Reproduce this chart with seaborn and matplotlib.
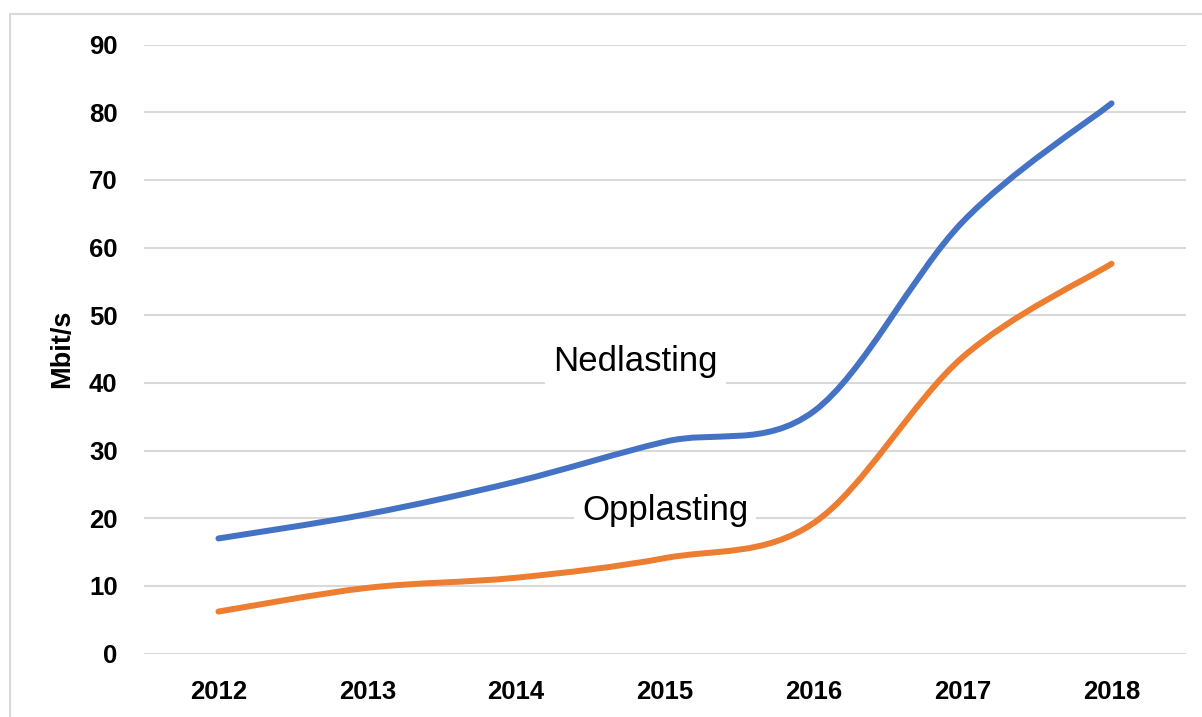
import matplotlib
matplotlib.use("Agg")
import matplotlib.pyplot as plt
import numpy as np
import seaborn as sns
from matplotlib.patches import PathPatch, Rectangle
from matplotlib.path import Path

# Data
aar = ["2012", "2013", "2014", "2015", "2016", "2017", "2018"]
nedlasting = [17.0, 20.6, 25.4, 31.3, 35.8, 63.8, 81.3]
opplasting = [6.2, 9.7, 11.2, 14.1, 19.3, 43.8, 57.6]
y_ticks = [0, 10, 20, 30, 40, 50, 60, 70, 80, 90]

BLAA = "#4472C4"
ORANSJE = "#ED7D31"
GRID = "#D9D9D9"


def glatt_sti(xs, ys):
    """Bezier-sti (Catmull-Rom) gjennom punktene, som Excel sine glatte linjer."""
    p = np.column_stack([xs, ys]).astype(float)
    n = len(p)
    verts = [p[0]]
    codes = [Path.MOVETO]
    for i in range(n - 1):
        p0 = p[max(i - 1, 0)]
        p1 = p[i]
        p2 = p[i + 1]
        p3 = p[min(i + 2, n - 1)]
        c1 = p1 + (p2 - p0) / 6.0
        c2 = p2 - (p3 - p1) / 6.0
        verts += [c1, c2, p2]
        codes += [Path.CURVE4] * 3
    return Path(verts, codes)


sns.set_theme(style="white")
plt.rcParams["font.family"] = ["Liberation Sans", "DejaVu Sans"]
plt.rcParams["text.color"] = "black"

fig = plt.figure(figsize=(12.02, 7.17), dpi=100)
ax = fig.add_axes([144 / 1202, 1 - 653.5 / 717, (1186 - 144) / 1202, (653.5 - 44.5) / 717])

x = np.arange(len(aar))
for verdier, farge in [(nedlasting, BLAA), (opplasting, ORANSJE)]:
    ax.add_patch(PathPatch(glatt_sti(x, verdier), facecolor="none", edgecolor=farge,
                           lw=4.3, capstyle="round", joinstyle="round", zorder=3))

ax.set_xlim(-0.5, len(aar) - 0.5)
ax.set_ylim(0, 90)
ax.set_xticks(x)
ax.set_xticklabels(aar)
ax.set_yticks(y_ticks)
ax.yaxis.grid(True, color=GRID, lw=1.5)
ax.xaxis.grid(False)
sns.despine(ax=ax, left=True, bottom=True)
ax.tick_params(axis="both", length=0, labelsize=18.5, colors="black")
ax.tick_params(axis="y", pad=19)
ax.tick_params(axis="x", pad=19)
for lbl in ax.get_xticklabels() + ax.get_yticklabels():
    lbl.set_fontweight("bold")

ax.set_ylabel("Mbit/s", fontsize=19.5, fontweight="bold", labelpad=10, color="black")

etikett_boks = dict(facecolor="white", edgecolor="none", pad=6)
ax.text(2.8, 43.1, "Nedlasting", fontsize=25, ha="center", va="center",
        color="black", bbox=etikett_boks, zorder=4)
ax.text(3.0, 21.2, "Opplasting", fontsize=25, ha="center", va="center",
        color="black", bbox=etikett_boks, zorder=4)

# Ramme rundt diagrammet
fig.patches.append(Rectangle((10 / 1202, -0.1), 1.2, 1 - 14 / 717 + 0.1,
                             transform=fig.transFigure, fill=False,
                             edgecolor=GRID, lw=1.5))

fig.savefig("out.png", dpi=100)
